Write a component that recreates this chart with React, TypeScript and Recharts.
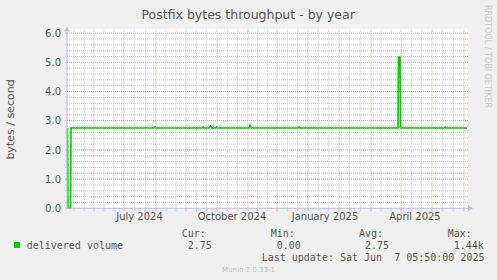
import React from 'react';
import {
  LineChart,
  Line,
  XAxis,
  YAxis,
  CartesianGrid,
  ReferenceLine,
  ReferenceDot,
} from 'recharts';

// days since the start of the 400-day window, and bytes/second at each point
const dayOffsets = [0.5, 1, 3.5, 4, 87, 88, 89, 135, 136, 137, 142, 143.5, 145, 148.5, 149.5, 150.5, 182, 183, 184, 231, 232, 233, 331, 331.5, 333, 333.5, 377, 378, 379, 400];
const deliveredVolume = [2.75, 0, 0, 2.75, 2.75, 2.79, 2.75, 2.75, 2.78, 2.75, 2.75, 2.82, 2.75, 2.75, 2.78, 2.75, 2.75, 2.85, 2.75, 2.75, 2.78, 2.75, 2.75, 5.18, 5.18, 2.75, 2.75, 2.78, 2.75, 2.75];

// month grid lines (red) and the month labels under the axis
const monthLineDays = [27, 57, 89, 119, 150, 181, 210, 241, 272, 304, 334, 365, 397];
const monthLabelDays = [72.5, 165, 258, 348];
const monthLabels = ['July 2024', 'October 2024', 'January 2025', 'April 2025'];

const yMajorTicks = [0, 1, 2, 3, 4, 5, 6];

// legend numbers
const statNames = ['Cur:', 'Min:', 'Avg:', 'Max:'];
const statValues = ['2.75', '0.00', '2.75', '1.44k'];
const statX = [181.7, 270.7, 359, 447.7];

const data = dayOffsets.map((d, i) => ({ d, v: deliveredVolume[i] }));

// minor lines at thirds between month lines
const minorDays: number[] = [7, 17.3];
for (let i = 0; i < monthLineDays.length - 1; i++) {
  const a = monthLineDays[i];
  const b = monthLineDays[i + 1];
  minorDays.push(a + (b - a) / 3, a + (2 * (b - a)) / 3);
}
const yAllTicks = Array.from({ length: 31 }, (_, i) => +(i * 0.2).toFixed(1));
const yMinorTicks = yAllTicks.filter((t) => !yMajorTicks.includes(t));

const FONT = '"DejaVu Sans", sans-serif';
const MONO = '"DejaVu Sans Mono", monospace';
const TEXT = '#555555';
const RED = '#f0a0a0';
const GREY = '#cfcfcf';
const AXIS = '#bcbcf4';
const GREEN = '#00cc00';

const XTick = (props: any) => {
  const { x, y, payload } = props;
  const li = monthLabelDays.indexOf(payload.value);
  if (li >= 0) {
    return (
      <text x={x} y={y + 12} textAnchor="middle" fontFamily={FONT} fontSize={10} fill={TEXT}>
        {monthLabels[li]}
      </text>
    );
  }
  const major = monthLineDays.includes(payload.value);
  return <line x1={x} x2={x} y1={y} y2={y + 3} stroke={major ? RED : GREY} strokeWidth={1} />;
};

const YTick = (props: any) => {
  const { x, y, payload } = props;
  const major = yMajorTicks.includes(payload.value);
  return (
    <g>
      <line x1={x - 2} x2={x} y1={y} y2={y} stroke={major ? RED : GREY} strokeWidth={1} />
      {major && (
        <text x={x - 6} y={y + 3.6} textAnchor="end" fontFamily={FONT} fontSize={10} fill={TEXT}>
          {payload.value.toFixed(1)}
        </text>
      )}
    </g>
  );
};

const App = () => {
  return (
    <div style={{ position: 'absolute', left: 0, top: 0, width: 497, height: 280, background: '#f0f0f0' }}>
      <LineChart
        width={497}
        height={280}
        data={data}
        margin={{ top: 28.5, right: 29, bottom: 51.7, left: 7 }}
      >
        <CartesianGrid fill="#ffffff" horizontal={false} vertical={false} />
        <XAxis
          dataKey="d"
          type="number"
          domain={[0, 401]}
          ticks={[...minorDays, ...monthLineDays, ...monthLabelDays]}
          interval={0}
          tick={<XTick />}
          tickLine={false}
          tickSize={0}
          tickMargin={0}
          height={20}
          axisLine={{ stroke: AXIS }}
        />
        <YAxis
          type="number"
          domain={[0, 6.16]}
          ticks={yAllTicks}
          interval={0}
          tick={<YTick />}
          tickLine={false}
          tickSize={0}
          tickMargin={0}
          width={60}
          axisLine={{ stroke: AXIS }}
        />
        {yMinorTicks.map((t) => (
          <ReferenceLine key={'ym' + t} y={t} stroke={GREY} strokeDasharray="1 1" />
        ))}
        {minorDays.map((d) => (
          <ReferenceLine key={'xm' + d} x={d} stroke={GREY} strokeDasharray="1 1" />
        ))}
        {yMajorTicks.slice(1).map((t) => (
          <ReferenceLine key={'yM' + t} y={t} stroke={RED} strokeDasharray="1 1" />
        ))}
        {monthLineDays.map((d) => (
          <ReferenceLine key={'xM' + d} x={d} stroke={RED} strokeDasharray="1 1" />
        ))}
        <ReferenceDot
          x={401}
          y={0}
          ifOverflow="visible"
          shape={(p: any) => (
            <polygon points={`${p.cx},${p.cy - 3} ${p.cx + 5},${p.cy} ${p.cx},${p.cy + 3}`} fill={AXIS} />
          )}
        />
        <ReferenceDot
          x={0}
          y={6.16}
          ifOverflow="visible"
          shape={(p: any) => (
            <polygon points={`${p.cx - 3},${p.cy + 3} ${p.cx},${p.cy - 2} ${p.cx + 3},${p.cy + 3}`} fill={AXIS} />
          )}
        />
        <Line
          type="linear"
          dataKey="v"
          stroke={GREEN}
          strokeWidth={1.6}
          dot={false}
          activeDot={false}
          isAnimationActive={false}
        />
      </LineChart>
      <svg
        width={497}
        height={280}
        style={{ position: 'absolute', left: 0, top: 0, pointerEvents: 'none' }}
      >
        <text x={248.2} y={19} textAnchor="middle" fontFamily={FONT} fontSize={12.5} fill={TEXT}>
          Postfix bytes throughput - by year
        </text>
        <text
          transform="translate(13.5,119.5) rotate(-90)"
          textAnchor="middle"
          fontFamily={FONT}
          fontSize={11}
          fill={TEXT}
        >
          bytes / second
        </text>
        <text transform="translate(485,5) rotate(90)" fontFamily={FONT} fontSize={8} fill="#c8c8c8">
          RRDTOOL / TOBI OETIKER
        </text>
        <rect x={14} y={242} width={6} height={6} fill={GREEN} />
        <text x={26.7} y={249.3} fontFamily={MONO} fontSize={10} fill={TEXT}>
          delivered volume
        </text>
        {statNames.map((n, i) => (
          <g key={n}>
            <text x={statX[i]} y={236.7} fontFamily={MONO} fontSize={10} fill={TEXT}>
              {n}
            </text>
            <text x={statX[i] + 6} y={249.3} fontFamily={MONO} fontSize={10} fill={TEXT}>
              {statValues[i]}
            </text>
          </g>
        ))}
        <text x={261.7} y={260.5} fontFamily={MONO} fontSize={10} fill={TEXT} style={{ whiteSpace: 'pre' }}>
          {'Last update: Sat Jun  7 05:50:00 2025'}
        </text>
        <text x={248.5} y={271.5} textAnchor="middle" fontFamily={FONT} fontSize={7} fill="#bdbdbd">
          Munin 2.0.33-1
        </text>
      </svg>
    </div>
  );
};

export default App;
